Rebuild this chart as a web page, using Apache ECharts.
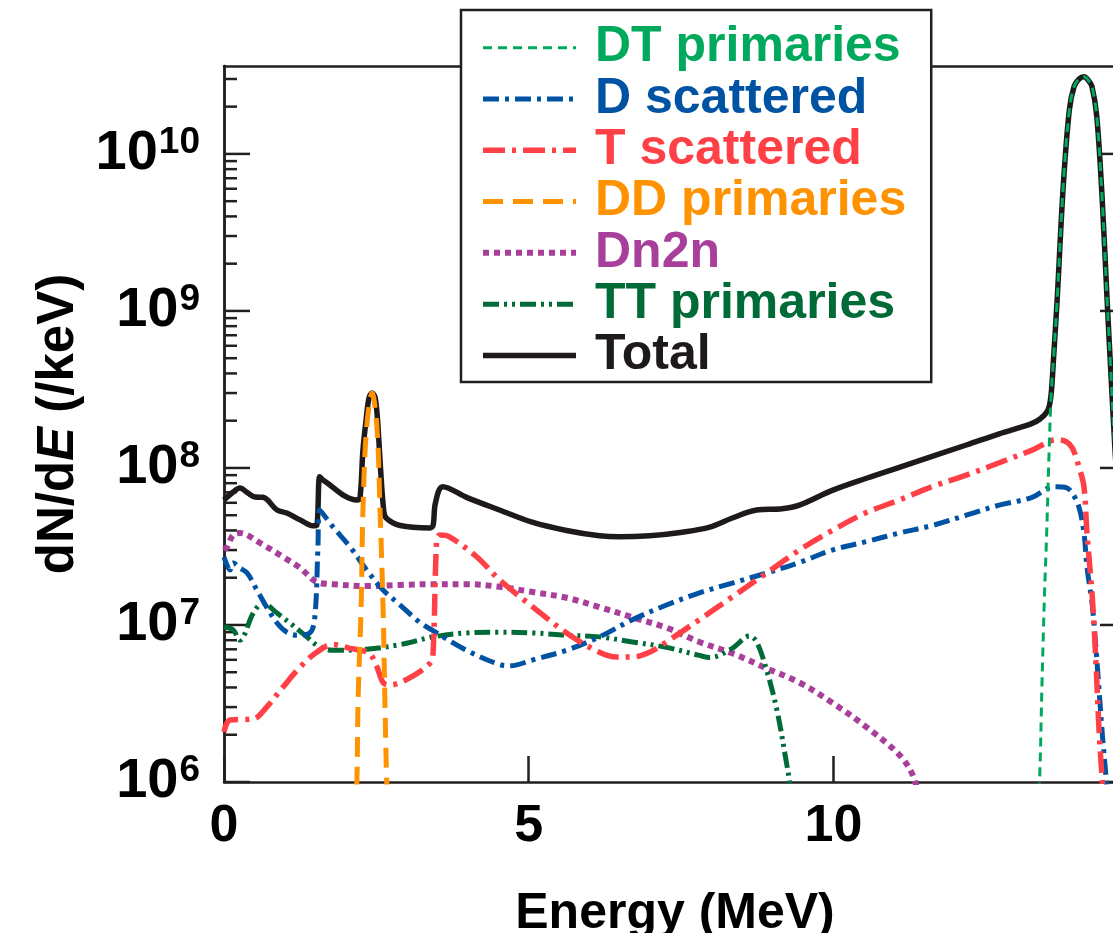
<!DOCTYPE html>
<html>
<head>
<meta charset="utf-8">
<script src="https://cdn.jsdelivr.net/npm/echarts@6/dist/echarts.min.js"></script>
<style>
  html, body { margin: 0; padding: 0; background: #fff; }
  #chart { width: 1113px; height: 933px; }
</style>
</head>
<body>
<div id="chart"></div>
<script>
// Neutron energy spectrum components: [Energy (MeV), dN/dE (/keV)]
const dtPrimaries = [
  [13.34, 7.0e5], [13.38, 1.0e6], [13.42, 4.0e6], [13.46, 1.45e7], [13.50, 4.0e7],
  [13.53, 1.0e8], [13.57, 2.8e8], [13.61, 4.9e8], [13.67, 1.17e9], [13.77, 6.2e9],
  [13.87, 1.9e10], [13.95, 2.7e10], [14.03, 3.0e10], [14.11, 3.1e10], [14.18, 2.95e10],
  [14.24, 2.7e10], [14.32, 1.74e10], [14.41, 5.1e9], [14.49, 1.17e9], [14.56, 3.5e8],
  [14.62, 1.2e8], [14.70, 3.0e7], [14.80, 5.0e6]
];
const dScattered = [
  [0.00, 2.71e7], [0.10, 2.24e7], [0.15, 2.48e7], [0.26, 2.31e7], [0.38, 2.14e7],
  [0.54, 1.67e7], [0.70, 1.30e7], [0.87, 1.03e7], [1.03, 9.0e6], [1.20, 8.6e6],
  [1.41, 8.9e6], [1.49, 1.12e7], [1.54, 3.0e7], [1.57, 5.4e7], [1.79, 4.2e7],
  [2.07, 3.14e7], [2.34, 2.24e7], [2.61, 1.67e7], [2.89, 1.34e7], [3.21, 1.04e7],
  [3.43, 9.2e6], [3.98, 6.9e6], [4.52, 5.6e6], [4.70, 5.5e6], [5.07, 6.0e6],
  [5.62, 6.9e6], [6.16, 8.4e6], [6.70, 1.08e7], [7.26, 1.34e7], [7.80, 1.6e7],
  [8.34, 1.85e7], [8.90, 2.14e7], [9.44, 2.5e7], [9.98, 3.0e7], [10.54, 3.4e7],
  [11.08, 3.85e7], [11.62, 4.3e7], [12.18, 5.0e7], [12.72, 5.8e7], [13.26, 6.5e7],
  [13.54, 7.5e7], [13.66, 7.6e7], [13.82, 7.5e7], [13.92, 6.9e7], [14.03, 5.6e7],
  [14.11, 3.85e7], [14.16, 2.34e7], [14.25, 1.3e7], [14.33, 5.4e6], [14.41, 2.05e6],
  [14.48, 9.8e5], [14.55, 4.0e5]
];
const tScattered = [
  [0.00, 2.08e6], [0.10, 2.48e6], [0.48, 2.52e6], [0.70, 3.0e6], [0.97, 4.03e6],
  [1.25, 5.4e6], [1.52, 6.7e6], [1.79, 7.5e6], [2.07, 7.1e6], [2.23, 6.9e6],
  [2.39, 6.6e6], [2.51, 5.4e6], [2.61, 4.3e6], [2.72, 4.15e6], [3.00, 4.5e6],
  [3.38, 5.7e6], [3.43, 6.6e6], [3.49, 3.5e7], [3.54, 3.74e7], [3.70, 3.64e7],
  [4.15, 2.71e7], [4.52, 1.94e7], [5.07, 1.30e7], [5.62, 8.9e6], [6.16, 6.7e6],
  [6.44, 6.25e6], [6.70, 6.25e6], [6.98, 6.7e6], [7.26, 7.8e6], [7.80, 1.08e7],
  [8.34, 1.51e7], [8.90, 2.14e7], [9.44, 3.0e7], [9.98, 4.0e7], [10.54, 5.2e7],
  [11.08, 6.25e7], [11.62, 7.6e7], [12.18, 9.0e7], [12.72, 1.08e8], [13.26, 1.3e8],
  [13.66, 1.51e8], [13.82, 1.47e8], [13.92, 1.34e8], [14.03, 1.01e8], [14.11, 7.6e7],
  [14.16, 3.85e7], [14.25, 1.44e7], [14.31, 5.4e6], [14.36, 2.05e6], [14.41, 1.02e6],
  [14.46, 5.0e5]
];
const ddPrimaries = [
  [2.15, 6.0e5], [2.18, 1.0e6], [2.20, 3.3e6], [2.25, 1.3e7], [2.28, 5.4e7],
  [2.34, 1.8e8], [2.43, 3.0e8], [2.51, 1.8e8], [2.56, 5.4e7], [2.61, 1.3e7],
  [2.64, 3.3e6], [2.67, 1.0e6], [2.70, 6.0e5]
];
const dn2n = [
  [0.00, 3.0e7], [0.05, 3.14e7], [0.15, 3.74e7], [0.26, 3.85e7], [0.59, 3.33e7],
  [0.97, 2.71e7], [1.25, 2.31e7], [1.52, 1.88e7], [1.79, 1.82e7], [2.34, 1.77e7],
  [2.89, 1.8e7], [3.43, 1.82e7], [3.98, 1.82e7], [4.52, 1.75e7], [5.07, 1.62e7],
  [5.62, 1.49e7], [6.16, 1.30e7], [6.70, 1.12e7], [7.26, 9.6e6], [7.80, 7.8e6],
  [8.34, 6.6e6], [8.90, 5.3e6], [9.44, 4.3e6], [9.98, 3.2e6], [10.54, 2.24e6],
  [11.08, 1.49e6], [11.30, 1.11e6], [11.40, 8.0e5]
];
const ttPrimaries = [
  [0.00, 9.7e6], [0.15, 9.3e6], [0.26, 8.0e6], [0.48, 1.19e7], [0.64, 1.38e7],
  [0.87, 1.19e7], [1.08, 1.03e7], [1.36, 8.4e6], [1.57, 7.24e6], [1.79, 6.9e6],
  [2.34, 7.0e6], [2.89, 7.5e6], [3.43, 8.4e6], [3.98, 8.9e6], [4.52, 9.0e6],
  [5.07, 8.9e6], [5.62, 8.6e6], [6.16, 8.4e6], [6.70, 7.8e6], [7.26, 7.2e6],
  [7.80, 6.4e6], [7.97, 6.2e6], [8.34, 7.1e6], [8.62, 8.5e6], [8.74, 7.8e6],
  [8.90, 5.2e6], [9.07, 2.9e6], [9.23, 1.32e6], [9.28, 1.0e6], [9.32, 6.3e5]
];
const total = [
  [0.00, 6.25e7], [0.15, 7.03e7], [0.26, 7.46e7], [0.39, 6.93e7], [0.51, 6.53e7],
  [0.64, 6.5e7], [0.87, 5.4e7], [1.03, 5.16e7], [1.25, 4.67e7], [1.46, 4.28e7],
  [1.52, 4.3e7], [1.57, 8.8e7], [1.62, 8.4e7], [2.18, 6.25e7], [2.23, 6.4e7],
  [2.28, 1.3e8], [2.33, 2.0e8], [2.38, 2.8e8], [2.43, 3.0e8], [2.48, 2.8e8],
  [2.52, 2.0e8], [2.57, 9.7e7], [2.62, 5.4e7], [2.66, 4.8e7], [2.89, 4.3e7],
  [3.38, 4.15e7], [3.43, 4.3e7], [3.47, 6.0e7], [3.59, 7.6e7], [3.98, 6.5e7],
  [4.52, 5.4e7], [5.07, 4.5e7], [5.62, 4.0e7], [6.16, 3.7e7], [6.49, 3.64e7],
  [6.98, 3.7e7], [7.52, 3.9e7], [7.97, 4.2e7], [8.34, 4.8e7], [8.74, 5.4e7],
  [9.16, 5.5e7], [9.44, 5.8e7], [9.98, 7.2e7], [10.54, 8.6e7], [11.08, 1.01e8],
  [12.18, 1.40e8], [12.72, 1.65e8], [13.23, 1.9e8], [13.39, 2.05e8], [13.51, 2.3e8],
  [13.56, 2.71e8], [13.59, 3.64e8], [13.61, 4.9e8], [13.67, 1.17e9], [13.77, 6.2e9],
  [13.87, 1.9e10], [13.95, 2.7e10], [14.03, 3.0e10], [14.11, 3.1e10], [14.18, 2.95e10],
  [14.24, 2.7e10], [14.32, 1.74e10], [14.41, 5.1e9], [14.49, 1.17e9], [14.56, 3.5e8],
  [14.62, 1.3e8], [14.70, 4.0e7], [14.80, 8.0e6]
];

// Axis ranges; decade (major) and 2..9 (minor) log ticks
const X_MIN = 0, X_MAX = 14.8, X_STEP = 5;
const Y_MIN = 1e6, Y_MAX = 3.63e10;
const yMajorTicks = [1e6, 1e7, 1e8, 1e9, 1e10];
const yMinorTicks = [];
for (let e = 6; e <= 10; e++) {
  for (let m = 2; m <= 9; m++) {
    const v = m * Math.pow(10, e);
    if (v < Y_MAX) yMinorTicks.push(v);
  }
}

const FONT = '"Liberation Sans", Arial, Helvetica, sans-serif';
const INK = '#231f20';

const styles = {
  'DT primaries': { color: '#00a95c', width: 3, dash: [9, 6] },
  'D scattered': { color: '#0052a3', width: 5, dash: [16, 6, 4, 6] },
  'T scattered': { color: '#ff4046', width: 5.5, dash: [22, 7, 4, 7] },
  'DD primaries': { color: '#ff9200', width: 5, dash: [20, 10] },
  'Dn2n': { color: '#a8409b', width: 6, dash: [6, 5] },
  'TT primaries': { color: '#006b36', width: 5, dash: [16, 5, 3, 5, 3, 5] },
  'Total': { color: '#1e1a1b', width: 5.5, dash: 'solid' }
};
const legendOrder = ['DT primaries', 'D scattered', 'T scattered', 'DD primaries', 'Dn2n', 'TT primaries', 'Total'];
const seriesData = {
  'DT primaries': dtPrimaries, 'D scattered': dScattered, 'T scattered': tScattered,
  'DD primaries': ddPrimaries, 'Dn2n': dn2n, 'TT primaries': ttPrimaries, 'Total': total
};
// drawing order: total underneath, the DT peak on top of it
const drawOrder = ['Total', 'Dn2n', 'TT primaries', 'D scattered', 'T scattered', 'DD primaries', 'DT primaries'];

function lineSeries(name) {
  const s = styles[name];
  return {
    name: name, type: 'line', data: seriesData[name],
    symbol: 'none', showSymbol: false, smooth: 0.35,
    clip: true, animation: false,
    lineStyle: { color: s.color, width: s.width, type: s.dash, cap: 'butt', join: 'round' },
    itemStyle: { color: s.color }
  };
}

// tick marks on the left and right frame edges, pointing inward
function tickSeries(values, len) {
  return {
    type: 'custom', silent: true, animation: false, clip: false,
    xAxisIndex: 0, yAxisIndex: 0,
    data: values.map(v => [X_MIN, v]),
    encode: { x: 0, y: 1 },
    renderItem: function (params, api) {
      const v = api.value(1);
      const pL = api.coord([X_MIN, v]);
      const pR = api.coord([X_MAX, v]);
      const st = { stroke: INK, lineWidth: 2.5 };
      return {
        type: 'group', children: [
          { type: 'line', shape: { x1: pL[0], y1: pL[1], x2: pL[0] + len, y2: pL[1] }, style: st },
          { type: 'line', shape: { x1: pR[0], y1: pR[1], x2: pR[0] - len, y2: pR[1] }, style: st }
        ]
      };
    }
  };
}

const chart = echarts.init(document.getElementById('chart'));
chart.setOption({
  animation: false,
  backgroundColor: '#fff',
  grid: { left: 224, top: 66, width: 902, height: 716, containLabel: false, outerBoundsMode: 'none' },
  legend: {
    orient: 'vertical', left: 461, top: 10,
    padding: [12, 25, 1, 19], itemGap: 0, itemWidth: 93, itemHeight: 12,
    backgroundColor: '#fff', borderColor: INK, borderWidth: 2.5, borderRadius: 0,
    selectedMode: false, z: 10,
    itemStyle: { opacity: 0 },
    textStyle: { fontSize: 50, fontWeight: 'bold', fontFamily: FONT, lineHeight: 51.3, padding: [0, 0, 0, 14] },
    data: legendOrder.map(n => ({
      name: n,
      textStyle: { color: styles[n].color },
      itemStyle: { opacity: 0 },
      lineStyle: { color: styles[n].color, width: styles[n].width, type: styles[n].dash, cap: 'butt' }
    }))
  },
  xAxis: [{
    type: 'value', min: X_MIN, max: X_MAX, interval: X_STEP, position: 'bottom',
    name: 'Energy (MeV)', nameLocation: 'middle', nameGap: 107,
    nameTextStyle: { fontSize: 50, fontWeight: 'bold', fontFamily: FONT, color: '#000' },
    axisLine: { show: true, lineStyle: { color: INK, width: 2.5 } },
    axisTick: { show: true, inside: true, length: 26, lineStyle: { color: INK, width: 2.5 } },
    axisLabel: { fontSize: 52, fontWeight: 'bold', fontFamily: FONT, color: '#000', margin: 19, showMaxLabel: false },
    splitLine: { show: false }
  }, {
    type: 'value', min: X_MIN, max: X_MAX, interval: X_STEP, position: 'top',
    axisLine: { show: true, lineStyle: { color: INK, width: 2.5 } },
    axisTick: { show: false }, axisLabel: { show: false }, splitLine: { show: false }
  }],
  yAxis: [{
    type: 'log', logBase: 10, min: Y_MIN, max: Y_MAX, position: 'left',
    name: 'dN/d{i|E} {n|(/keV)}', nameLocation: 'middle', nameGap: 139,
    nameTruncate: { maxWidth: 2000 },
    nameTextStyle: {
      fontSize: 51, fontWeight: 'bold', fontFamily: FONT, color: '#000',
      rich: {
        i: { fontSize: 51, fontWeight: 'bold', fontStyle: 'italic', fontFamily: FONT, color: '#000' },
        n: { fontSize: 51, fontWeight: 'bold', fontFamily: FONT, color: '#000' }
      }
    },
    axisLine: { show: true, lineStyle: { color: INK, width: 2.5 } },
    axisTick: { show: false },
    axisLabel: {
      margin: 24, showMaxLabel: false,
      formatter: function (v) {
        const lg = Math.log10(v), e = Math.round(lg);
        if (Math.abs(lg - e) > 1e-6) return '';
        return '{b|10}{s|' + e + '}';
      },
      rich: {
        b: { fontSize: 56, fontWeight: 'bold', fontFamily: FONT, color: '#000', lineHeight: 60, verticalAlign: 'middle' },
        s: { fontSize: 37, fontWeight: 'bold', fontFamily: FONT, color: '#000', lineHeight: 30, verticalAlign: 'top', padding: [0, 0, 0, 1] }
      }
    },
    splitLine: { show: false }
  }, {
    type: 'log', logBase: 10, min: Y_MIN, max: Y_MAX, position: 'right',
    axisLine: { show: true, lineStyle: { color: INK, width: 2.5 } },
    axisTick: { show: false }, axisLabel: { show: false }, splitLine: { show: false }
  }],
  series: drawOrder.map(lineSeries).concat([
    tickSeries(yMajorTicks, 26),
    tickSeries(yMinorTicks, 13)
  ])
});
</script>
</body>
</html>
